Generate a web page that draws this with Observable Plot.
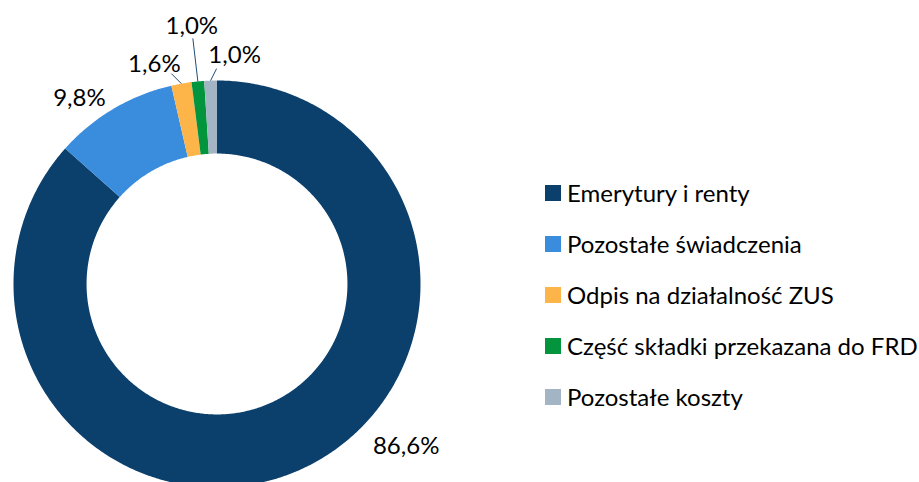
<!DOCTYPE html>
<html>
<head>
<meta charset="utf-8">
<script src="https://cdn.jsdelivr.net/npm/d3@7"></script>
<script src="https://cdn.jsdelivr.net/npm/@observablehq/plot@0.6"></script>
<style>
  html, body { margin: 0; padding: 0; background: #fff; }
  #wrap { position: relative; width: 919px; height: 482px; overflow: hidden; font-family: Lato, "Open Sans", sans-serif; }
  #legend { position: absolute; left: 545px; top: 166.5px; }
  .item { display: flex; align-items: center; height: 51px; font-size: 24px; color: #000; white-space: nowrap; }
  .sw { width: 16px; height: 16px; margin-right: 6px; flex: none; position: relative; top: 1px; }
</style>
</head>
<body>
<div id="wrap"><div id="chart"></div><div id="legend"></div></div>
<script>
// ---- data ----
const categories = ["Emerytury i renty", "Pozostałe świadczenia", "Odpis na działalność ZUS", "Część składki przekazana do FRD", "Pozostałe koszty"];
const shares = [86.6, 9.8, 1.6, 1.0, 1.0];
const valueLabels = ["86,6%", "9,8%", "1,6%", "1,0%", "1,0%"];
const colors = ["#0b3f6c", "#3a8ddd", "#fdb54a", "#03953e", "#a3b4c4"];

// ---- layout (pixel nudges of labels from slice's outer mid point) ----
const labelNudge = [
  {dx: 106, dy: -23, leader: null},
  {dx: -34, dy: -11, leader: null},
  {dx: -27, dy: -19, leader: {dx: -10, dy: -10}},
  {dx: -6, dy: -55, leader: {dx: -5, dy: -43}},
  {dx: 24, dy: -25, leader: {dx: 6, dy: -12}}
];
const innerRatio = 0.641;
const Rpx = 203.5;

// ---- geometry from data ----
const pie = d3.pie().sort(null).value(d => d)(shares);
const pts = [];
pie.forEach((p, i) => {
  const a0 = p.startAngle, a1 = p.endAngle;
  const n = Math.max(4, Math.ceil((a1 - a0) / 0.01));
  for (let k = 0; k <= n; k++) {
    const a = a0 + (a1 - a0) * k / n;
    pts.push({cat: categories[i], x: Math.sin(a), y: Math.cos(a)});
  }
  for (let k = n; k >= 0; k--) {
    const a = a0 + (a1 - a0) * k / n;
    pts.push({cat: categories[i], x: innerRatio * Math.sin(a), y: innerRatio * Math.cos(a)});
  }
});
const labels = pie.map((p, i) => {
  const m = (p.startAngle + p.endAngle) / 2;
  const ax = Math.sin(m), ay = Math.cos(m);
  const nd = labelNudge[i];
  return {
    text: valueLabels[i],
    lx: ax + nd.dx / Rpx, ly: ay - nd.dy / Rpx,
    leader: nd.leader ? {x1: ax, y1: ay, x2: ax + nd.leader.dx / Rpx, y2: ay - nd.leader.dy / Rpx} : null
  };
});
const leaders = labels.filter(d => d.leader).map(d => d.leader);

const cx = 216.5, cy = 283.5;
const chart = Plot.plot({
  width: 919,
  height: 482,
  margin: 0,
  style: {fontFamily: "Lato, 'Open Sans', sans-serif", background: "#fff"},
  x: {domain: [-1, 1], range: [cx - Rpx, cx + Rpx], axis: null},
  y: {domain: [-1, 1], range: [cy + Rpx, cy - Rpx], axis: null},
  color: {domain: categories, range: colors},
  marks: [
    Plot.line(pts, {x: "x", y: "y", z: "cat", fill: "cat", stroke: "none"}),
    Plot.link(leaders, {x1: "x1", y1: "y1", x2: "x2", y2: "y2", stroke: "#1f4e79", strokeWidth: 1}),
    Plot.text(labels, {x: "lx", y: "ly", text: "text", fontSize: 24, fill: "#000", textAnchor: "middle"})
  ]
});
document.getElementById("chart").appendChild(chart);

const legend = document.getElementById("legend");
categories.forEach((c, i) => {
  const it = document.createElement("div");
  it.className = "item";
  const sw = document.createElement("span");
  sw.className = "sw";
  sw.style.background = colors[i];
  const t = document.createElement("span");
  t.textContent = c;
  it.appendChild(sw); it.appendChild(t);
  legend.appendChild(it);
});
</script>
</body>
</html>
